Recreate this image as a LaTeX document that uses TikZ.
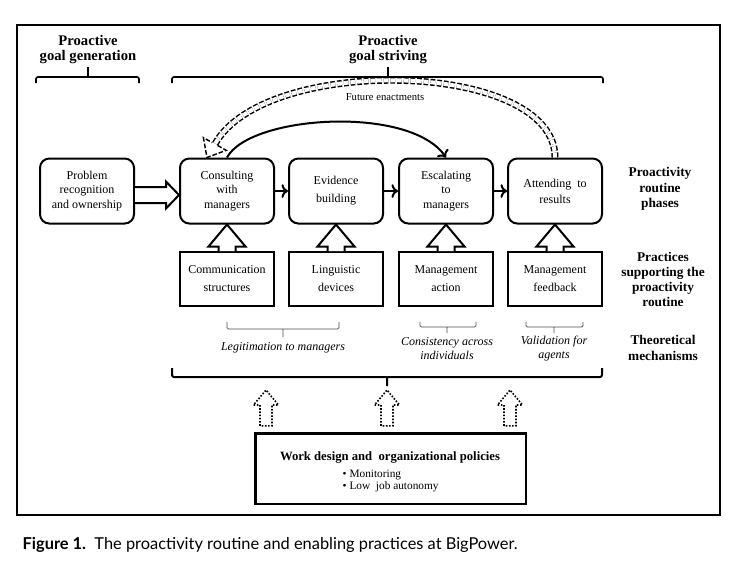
\documentclass[tikz,border=0pt]{standalone}
\usepackage{fontspec}
\setmainfont{Liberation Serif}
\newfontfamily\capfont{Lato}
\usetikzlibrary{calc,arrows.meta}

\begin{document}
\begin{tikzpicture}[x=0.75pt,y=-0.75pt,
        phase/.style={draw,line width=1.5pt,rounded corners=7pt,minimum width=70.5pt,minimum height=48.75pt,inner sep=0pt,align=center,font=\fontsize{9}{11}\selectfont},
        practice/.style={draw,line width=1.5pt,minimum width=71pt,minimum height=40.5pt,inner sep=0pt,align=center,font=\fontsize{9}{13.5}\selectfont},
        sidelabel/.style={align=center,font=\fontsize{10}{11.5}\selectfont\bfseries},
        mechlabel/.style={align=center,font=\fontsize{9}{10.5}\selectfont\itshape},
        blk/.style={line width=1.5pt,fill=white},
        dotblk/.style={line width=1.2pt,dash pattern=on 1.2pt off 1.2pt},
        brc/.style={line width=1.2pt,rounded corners=1.5pt},
        mbr/.style={line width=0.6pt,rounded corners=1pt,black!70},
        next/.style={->,line width=1.5pt},
        futline/.style={dash pattern=on 3.5pt off 1.5pt,line width=1.1pt}]
        \useasboundingbox (0,0) rectangle (738,572);
        \draw[line width=0.9pt] (17,25) rectangle (720,515);

        % phase headings
        \node[align=center,font=\fontsize{11}{11.25}\selectfont\bfseries] (gen) at (88,49.5) {Proactive\\goal generation};
        \node[align=center,font=\fontsize{11}{11.25}\selectfont\bfseries] (striv) at (388,49.5) {Proactive\\goal striving};
        \draw[brc] (36,83) |- (139,77) -- (139,83) (88,77) -- (88,67);
        \draw[brc] (172,83) |- (603,77) -- (603,83) (388,77) -- (388,67);

        % routine phases
        \node[phase] (prob) at (87,191) {Problem\\recognition\\and ownership};
        \node[phase] (consult) at (227,191) {Consulting\\with\\managers};
        \node[phase,font=\fontsize{9}{13.5}\selectfont] (evid) at (336,191) {Evidence\\building};
        \node[phase] (escal) at (446,191) {Escalating\\to\\managers};
        \node[phase,font=\fontsize{9}{12}\selectfont] (attend) at (555,191) {Attending\ \ to\\results};

        \draw[blk] ($(prob.east)+(0,-4)$) -- ($(consult.west)+(-13,-4)$) -- ($(consult.west)+(-13,-9.5)$) -- ($(consult.west)+(0,4)$)
            -- ($(consult.west)+(-13,17.5)$) -- ($(consult.west)+(-13,12)$) -- ($(prob.east)+(0,12)$);
        \draw[next] (consult) -- (evid);
        \draw[next] (evid) -- (escal);
        \draw[next] (escal) -- (attend);

        % loops over the phases
        \draw[next] (consult.north) .. controls (250,115) and (410,105) .. (escal.north);
        \coordinate (reenter) at ($(consult.north)+(-20,0)$);
        \coordinate (headbase) at (215,144);
        \draw[futline,double,double distance=3pt] (attend.north) .. controls (555,60) and (265,54) .. (headbase);
        \draw[futline] (217.5,145.4) -- (226.2,150.3) -- (reenter) -- (203.4,137.7) -- (212.3,142.6);
        \node[font=\fontsize{8}{9.6}\selectfont] (fut) at (385,97) {Future enactments};

        % supporting practices
        \node[practice] (comm) at (227,279) {Communication\\structures};
        \node[practice] (ling) at (336,279) {Linguistic\\devices};
        \node[practice] (mact) at (446,279) {Management\\action};
        \node[practice] (mfb) at (555,279) {Management\\feedback};

        \foreach \lo/\hi in {comm/consult,ling/evid,mact/escal,mfb/attend}
            \draw[blk] ($(\lo.north)+(-8.5,0)$) -- ($(\hi.south)+(-8.5,22)$) -- ($(\hi.south)+(-18.5,22)$) -- (\hi.south)
                -- ($(\hi.south)+(18.5,22)$) -- ($(\hi.south)+(8.5,22)$) -- ($(\lo.north)+(8.5,0)$);

        % theoretical mechanisms
        \draw[mbr] (227,322) |- (339,329) -- (339,322) (283,329) -- (283,337);
        \draw[mbr] (420,322) |- (476,327) -- (476,322) (447,327) -- (447,333);
        \draw[mbr] (526,322) |- (583,327) -- (583,322) (554,327) -- (554,333);
        \node[mechlabel] (legit) at (283,348) {Legitimation to managers};
        \node[mechlabel] (consist) at (447,349) {Consistency across\\individuals};
        \node[mechlabel] (valid) at (554,349) {Validation for\\agents};

        \draw[brc,line width=1.5pt] (172,368) |- (602,377) -- (602,368) (387,377) -- (387,386);

        % row labels
        \node[sidelabel] (phaselbl) at (660,189) {Proactivity\\routine\\phases};
        \node[sidelabel,font=\fontsize{10}{11.25}\selectfont\bfseries] (praclbl) at (663,279.5) {Practices\\supporting the\\proactivity\\routine};
        \node[sidelabel,font=\fontsize{10}{12}\selectfont\bfseries] (theolbl) at (663,348) {Theoretical\\mechanisms};

        % work design
        \node[draw,line width=2pt,minimum width=203pt,minimum height=53pt] (work) at (390.5,468.5) {};
        \node[font=\fontsize{9.5}{11}\selectfont\bfseries] (worktitle) at (390,457) {Work design and\ \ organizational policies};
        \node[anchor=west,align=left,font=\fontsize{8.5}{9}\selectfont] (worklist) at (338,481) {• Monitoring\\• Low\ \ job\ autonomy};

        \coordinate (t1) at (266,390);
        \coordinate (t2) at (387,390);
        \coordinate (t3) at (510,390);
        \foreach \t in {t1,t2,t3}
            \draw[dotblk] ($(work.north -| \t)+(-6,-6)$) -- ($(\t)+(-6,15)$) -- ($(\t)+(-12.5,15)$) -- (\t)
                -- ($(\t)+(12.5,15)$) -- ($(\t)+(6,15)$) -- ($(work.north -| \t)+(6,-6)$) -- cycle;

        % caption
        \node[anchor=west,font=\capfont\fontsize{12.3}{14}\selectfont] (cap) at (18,545) {\textbf{Figure 1.}\ \ The proactivity routine and enabling practices at BigPower.};
\end{tikzpicture}
\end{document}
